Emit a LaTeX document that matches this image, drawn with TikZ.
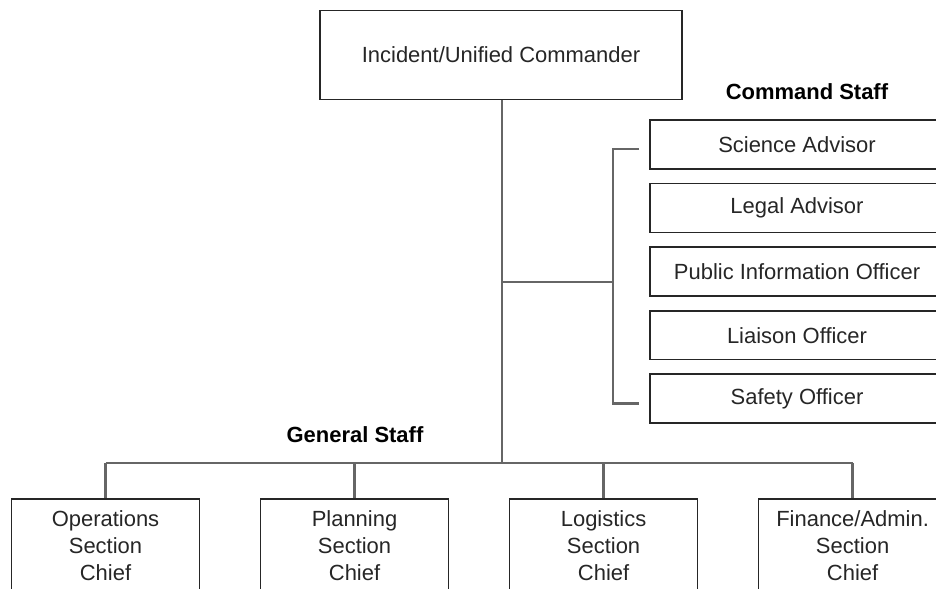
\documentclass[tikz,border=0pt]{standalone}
\usepackage{fontspec}
\setmainfont{Liberation Sans}
\usetikzlibrary{positioning,calc}

\begin{document}
\begin{tikzpicture}[
      x=0.02cm, y=-0.02cm,
      every node/.style={font=\fontsize{12.5}{15.4}\selectfont, text=black!85, inner sep=0pt},
      box/.style={draw=black!85, line width=0.9pt},
      cmdbox/.style={box, minimum width=5.88cm, minimum height=0.98cm},
      secbox/.style={box, align=center, minimum width=3.76cm, minimum height=1.88cm},
      link/.style={draw=black!60, line width=1.4pt},
      staff/.style={font=\fontsize{12.5}{15.4}\selectfont\bfseries, text=black}
      ]

      \path[use as bounding box] (0,0) rectangle (936,588);
      \clip (0,0) rectangle (936,588);

      \path node[box, minimum width=7.24cm, minimum height=1.78cm] (commander) at (501,55) {Incident/Unified Commander};

      % command staff, stacked on the right
      \path node[staff] (cmdstaff) at (807,92) {Command Staff};
      \path node[cmdbox] (science) at (797,144.5) {Science Advisor};
      \path node[cmdbox, below=0.26cm of science] (legal) {Legal Advisor};
      \path node[cmdbox, below=0.26cm of legal] (pio) {Public Information Officer};
      \path node[cmdbox, below=0.26cm of pio] (liaison) {Liaison Officer};
      \path node[cmdbox, below=0.26cm of liaison] (safety) {Safety Officer};

      % general staff, one row at the bottom
      \path node[staff] (genstaff) at (355,435) {General Staff};
      \path node[secbox] (ops) at (105.5,546) {Operations\\Section\\Chief};
      \path node[secbox, right=1.19cm of ops] (plan) {Planning\\Section\\Chief};
      \path node[secbox, right=1.19cm of plan] (logi) {Logistics\\Section\\Chief};
      \path node[secbox, right=1.19cm of logi] (fin) {Finance/Admin.\\Section\\Chief};

      \coordinate (cmdjoin) at (502,282);
      \coordinate (genjoin) at (502,463);
      \coordinate (brtop) at ($(science.west)+(-36,4.5)$);
      \coordinate (brbot) at ($(safety.west)+(-36,4.5)$);

      \path[link] (commander.south -| genjoin) -- (genjoin);
      \path[link] (cmdjoin) -- (cmdjoin -| brtop);
      \path[link] ($(science.west)+(-10,4.5)$) -- (brtop) -- (brbot) -- ($(safety.west)+(-10,4.5)$);

      \path[link] (ops.north |- genjoin) -- (fin.north |- genjoin);
      \foreach \sec in {ops,plan,logi,fin}
        \path[link] (\sec.north |- genjoin) -- (\sec.north);
    \end{tikzpicture}
\end{document}
